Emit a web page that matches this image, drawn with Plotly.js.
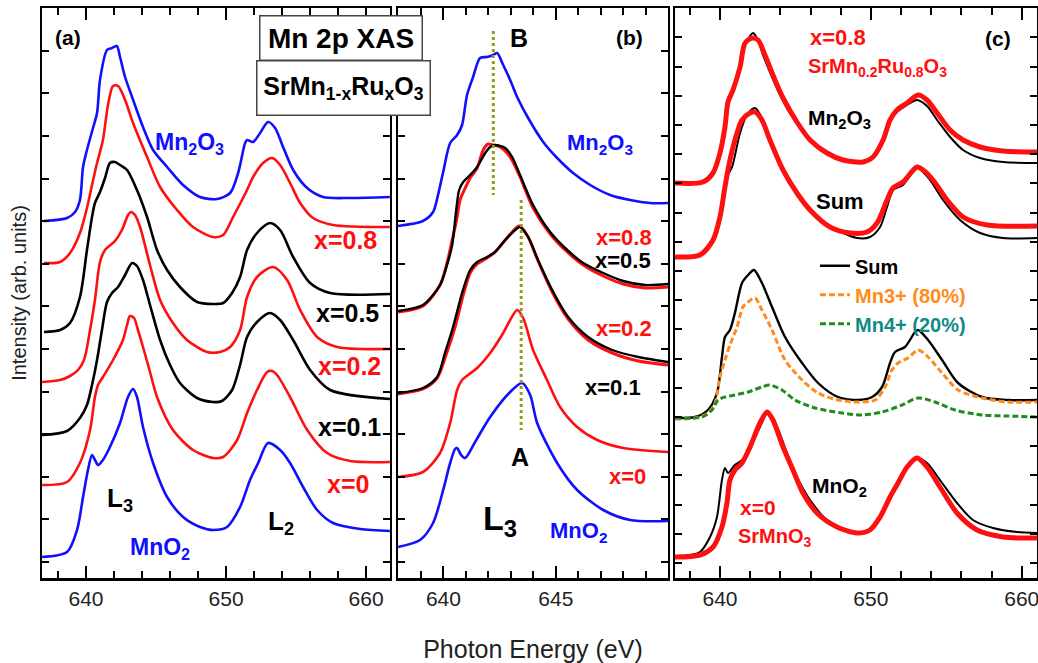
<!DOCTYPE html>
<html><head><meta charset="utf-8">
<script src="https://cdn.plot.ly/plotly-3.0.1.min.js"></script>
<style>html,body{margin:0;padding:0;background:#fff;}#chart{width:1038px;height:663px;}</style>
</head><body><div id="chart"></div>
<script>
// ---------- Panel (a) ----------
const aMn2O3E = [637.0,638.65,639.22,639.57,639.79,640.07,640.5,640.79,641.0,641.5,641.86,642.2,642.43,642.79,643.29,644.07,644.79,645.79,646.93,648.14,649.36,650.29,650.86,651.36,651.5,651.93,652.43,653.0,653.5,654.07,654.79,655.79,656.93,658.86,661.7];
const aMn2O3I = [35.7,36.0,36.6,37.8,41.1,42.8,45.0,46.5,49.8,52.8,53.0,53.2,52.1,50.1,48.1,45.1,42.8,41.1,39.3,38.1,37.9,38.5,40.5,43.5,43.8,43.6,44.5,45.6,45.0,43.1,40.8,39.0,38.1,38.0,38.1];
const aX08E = [637.0,638.15,638.86,639.57,640.07,640.43,640.79,641.21,641.57,641.93,642.29,642.79,643.36,644.36,645.29,646.5,647.64,649.07,649.79,650.5,651.5,651.93,652.64,653.29,653.86,654.57,655.29,656.21,657.64,661.7];
const aX08I = [31.5,31.6,32.5,34.5,37.0,39.3,41.5,43.8,47.3,49.2,49.2,47.8,45.5,42.1,39.1,36.8,35.1,34.1,34.3,36.1,38.8,40.1,41.5,42.0,41.3,39.5,37.5,36.0,35.3,35.1];
const aX05E = [637.0,638.15,638.86,639.57,640.07,640.43,640.64,641.0,641.36,641.71,642.07,642.43,642.93,643.64,644.36,645.07,645.79,646.71,647.93,649.07,649.79,650.43,651.0,651.5,652.21,653.14,653.86,654.79,656.0,657.43,661.7];
const aX05I = [24.6,24.8,25.5,28.1,32.8,36.1,37.5,38.6,40.0,41.5,41.6,41.3,40.8,38.8,36.1,32.8,30.8,29.1,27.6,27.4,27.5,28.5,30.1,32.8,34.5,35.5,34.8,32.1,29.5,28.5,28.4];
const aX02E = [636.86,638.15,638.86,639.43,639.86,640.29,640.64,641.0,641.36,642.07,642.57,643.0,643.21,643.5,643.86,644.57,645.29,646.21,647.21,648.64,649.57,650.29,651.0,651.5,652.21,653.36,654.36,655.29,656.5,657.93,661.7];
const aX02I = [19.6,19.8,20.2,20.8,21.8,24.8,27.8,31.6,32.8,33.7,34.8,36.3,36.6,36.3,35.1,31.3,27.8,25.5,23.8,22.6,22.6,23.1,24.8,28.1,30.1,31.1,29.8,26.8,24.1,23.1,22.9];
const aX01E = [636.86,638.65,639.57,640.07,640.43,640.79,641.14,641.5,641.86,642.29,642.79,643.29,643.64,644.07,644.57,645.29,646.0,646.71,647.93,649.07,649.71,650.43,651.0,651.5,652.21,653.14,653.86,654.79,656.0,657.43,661.7];
const aX01I = [14.3,14.7,16.0,17.3,19.3,21.8,24.8,27.6,28.5,29.1,30.3,31.5,31.2,29.8,27.3,23.8,21.3,19.5,18.0,17.6,17.7,18.8,21.3,24.1,25.6,26.5,25.8,23.8,20.8,18.8,17.9];
const aX0E = [636.86,638.65,639.57,640.29,640.64,640.86,641.21,641.93,642.64,642.93,643.14,643.43,643.71,644.07,644.57,645.07,646.21,647.64,649.07,649.79,650.79,651.5,652.21,652.93,653.29,653.64,654.57,655.79,657.21,658.86,661.7];
const aX0I = [9.3,9.6,11.5,14.8,18.1,19.3,20.1,21.8,23.8,25.3,26.2,26.0,24.8,23.1,20.6,18.1,14.8,12.8,12.0,12.1,13.8,16.5,18.8,20.6,20.7,20.3,18.1,14.8,12.5,11.7,11.6];
const aMnO2E = [636.86,638.65,639.36,639.79,640.14,640.43,640.64,640.86,641.21,641.71,642.43,643.0,643.36,643.64,644.07,644.79,645.79,646.93,648.14,649.07,650.07,651.0,651.71,652.29,653.0,653.86,654.57,655.5,656.5,657.64,659.57,661.7];
const aMnO2I = [2.1,2.6,4.8,8.1,10.8,12.3,11.8,11.3,11.8,13.1,15.5,18.1,18.9,18.1,15.1,11.5,8.1,6.1,5.1,4.8,5.1,7.1,9.8,11.5,13.5,12.8,11.5,9.1,6.8,5.5,4.9,4.7];

// ---------- Panel (b) ----------
const bMn2O3E = [637.98,639.09,639.54,639.76,639.99,640.3,640.61,640.83,641.05,641.32,641.63,641.94,642.21,642.39,642.66,642.97,643.28,643.77,644.44,645.06,645.77,646.53,647.42,648.3,649.19,650.0];
const bMn2O3I = [35.2,35.7,36.6,38.3,40.6,43.5,44.3,45.3,48.3,50.1,52.0,52.1,52.3,52.5,51.3,49.8,48.1,46.0,43.6,42.0,40.5,39.3,38.3,37.8,37.5,37.5];
const bX08E = [637.98,639.09,639.85,640.16,640.39,640.57,640.74,640.97,641.19,641.5,641.77,641.99,642.21,642.52,642.97,643.41,643.99,644.75,645.51,646.22,647.11,648.0,648.98,650.0];
const bX08I = [26.6,27.2,29.3,31.5,33.8,35.6,37.8,39.0,40.0,41.0,42.8,43.4,43.3,43.1,42.1,40.1,37.0,34.4,32.6,31.3,30.2,29.4,29.0,29.1];
const bX05E = [637.98,639.09,639.85,640.16,640.39,640.57,640.7,640.88,641.19,641.5,641.86,642.08,642.3,642.75,643.06,643.41,643.99,644.75,645.51,646.22,647.11,648.0,648.98,650.0];
const bX05I = [26.7,27.3,29.3,31.3,33.3,36.8,38.8,39.6,40.3,41.1,42.5,43.1,43.3,43.0,42.1,40.3,37.3,34.6,32.8,31.5,30.5,29.7,29.3,29.4];
const bX02E = [637.98,639.09,639.72,640.16,640.52,640.88,641.19,641.5,641.94,642.3,642.75,643.1,643.37,643.77,644.21,644.84,645.55,646.44,647.51,648.67,650.0];
const bX02I = [18.4,18.9,20.0,22.6,25.1,28.3,30.5,31.4,32.0,32.6,33.8,34.7,35.2,34.1,31.7,28.6,25.9,23.8,22.5,21.7,21.3];
const bX01E = [637.98,639.09,639.72,640.08,640.43,640.83,641.19,641.5,641.94,642.3,642.75,643.1,643.41,643.77,644.21,644.84,645.55,646.44,647.51,648.67,650.0];
const bX01I = [18.5,19.0,20.1,22.6,25.1,28.5,30.8,31.6,32.1,32.6,33.8,34.6,35.1,34.1,31.8,28.8,26.1,24.1,22.8,22.1,21.6];
const bX0E = [637.98,639.09,639.85,640.3,640.61,640.83,641.1,641.5,642.08,642.66,642.97,643.28,643.55,643.99,644.61,645.19,645.95,646.84,648.0,650.0];
const bX0I = [10.1,10.6,12.5,15.5,18.8,19.8,20.3,21.0,22.5,24.5,25.8,26.8,26.0,22.8,19.8,17.1,15.1,13.8,13.0,12.6];
const bMnO2E = [637.98,638.96,639.54,639.99,640.3,640.52,640.61,640.79,640.97,641.41,642.08,642.97,643.5,643.86,644.17,645.06,645.95,647.11,648.31,650.0];
const bMnO2I = [3.1,3.8,5.5,8.8,11.5,12.9,13.0,12.3,12.0,13.6,16.1,18.6,19.5,18.3,15.5,11.5,8.8,6.8,5.8,5.7];
const markBE = [642.22,642.22], markBI = [54.7,38.3];
const markAE = [643.46,643.46], markAI = [37.8,14.8];

// ---------- Panel (c) ----------
const cMn2O3E = [637.02,638.87,639.54,640.0,640.33,640.53,640.86,641.33,641.66,641.99,642.19,642.52,642.85,643.31,643.98,644.84,645.77,646.83,648.15,649.28,650.14,650.81,651.27,651.73,652.4,653.06,653.72,654.39,655.25,656.11,657.24,658.76,661.01];
const cMn2O3I = [39.5,39.6,40.6,42.6,44.8,47.4,48.5,51.0,53.3,54.2,54.5,53.8,52.3,50.6,48.3,46.0,44.1,42.6,41.8,41.5,42.0,43.8,45.8,46.6,47.3,47.8,47.2,45.8,44.1,42.8,42.0,41.6,41.5];
const cX08aE = [637.02,638.87,639.54,640.0,640.33,640.53,640.86,641.33,641.66,642.12,642.52,642.98,643.51,644.18,645.1,645.97,647.09,648.15,649.48,650.14,650.81,651.27,651.73,652.4,653.13,653.72,654.39,655.25,656.11,657.24,658.76,661.01];
const cX08aI = [39.5,39.6,40.5,42.5,45.1,47.6,48.8,51.1,53.5,54.0,53.8,52.3,50.3,48.0,45.6,43.8,42.5,41.8,41.6,42.1,43.8,45.8,46.8,47.5,48.3,47.8,46.5,44.8,43.8,43.1,42.7,42.6];
const cX08bE = [637.02,638.67,639.54,640.0,640.33,640.66,641.13,641.46,641.99,642.32,642.78,643.31,644.18,645.1,645.97,647.29,648.62,649.74,650.41,651.07,651.47,652.13,653.06,653.46,654.12,655.05,656.11,657.7,661.01];
const cX08bI = [32.1,32.3,33.8,36.1,39.1,41.8,44.5,45.8,46.5,46.6,45.8,43.8,40.8,38.5,36.8,35.1,34.5,34.6,35.5,37.8,39.0,39.6,41.1,40.8,39.8,37.8,36.1,35.3,35.2];
const cSumAE = [637.02,638.87,639.54,640.13,640.46,640.8,641.33,641.79,642.32,642.85,643.51,644.44,645.5,646.63,647.76,649.08,649.94,650.61,651.07,651.47,652.13,653.06,653.92,654.78,655.91,657.24,658.76,661.01];
const cSumAI = [32.1,32.5,33.8,37.1,40.1,41.1,44.5,46.3,47.0,45.8,43.1,40.1,37.5,35.8,34.8,34.0,34.1,35.1,37.1,38.8,39.3,41.0,39.8,37.8,35.8,34.5,34.0,34.0];
const cSumBE = [637.02,638.34,639.2,639.8,640.13,640.33,640.66,640.99,641.46,641.86,642.25,642.78,643.45,644.31,645.44,646.5,647.82,649.15,650.08,650.74,651.27,651.6,652.26,652.93,653.13,653.79,654.72,655.78,657.37,659.09,661.08];
const cSumBI = [16.0,16.1,16.8,18.5,22.1,24.1,24.8,26.5,29.5,30.3,30.8,29.5,27.1,24.1,21.5,19.5,18.1,17.8,18.1,19.1,21.5,22.6,23.1,24.6,24.8,23.8,21.8,19.5,18.1,17.8,17.8];
const cMn3E = [637.02,638.34,639.2,639.67,640.0,640.33,640.66,641.13,641.52,641.86,642.32,642.78,643.45,644.31,645.44,646.5,647.82,649.15,650.28,650.94,651.4,651.8,652.46,653.13,653.79,654.72,655.78,657.37,659.09,661.08];
const cMn3I = [15.9,16.0,16.5,17.5,20.1,21.8,23.3,25.1,27.1,27.6,28.0,26.8,24.8,21.8,19.8,18.5,17.8,17.6,17.8,19.1,20.8,21.5,22.0,22.8,22.1,20.5,18.8,18.0,17.6,17.6];
const cMn4E = [637.02,638.81,639.47,639.87,640.33,640.99,641.86,642.78,643.31,644.11,644.97,646.3,648.09,649.41,650.74,652.07,653.13,654.25,655.58,657.37,659.09,661.08];
const cMn4I = [16.0,16.1,16.8,17.8,18.1,18.3,18.6,19.1,19.3,18.8,17.8,17.0,16.5,16.3,16.6,17.3,18.0,17.6,16.8,16.3,16.2,16.1];
const cMnO2E = [637.02,638.67,639.34,639.8,640.13,640.33,640.53,640.99,641.46,641.99,642.65,643.18,643.78,644.44,645.1,645.97,647.09,648.42,649.48,650.14,650.81,651.4,651.8,652.4,653.06,653.72,654.58,655.71,656.77,658.1,659.69,661.01];
const cMnO2I = [2.1,2.6,4.1,6.1,9.8,11.0,10.5,11.3,11.8,13.1,15.1,16.6,15.1,12.5,10.1,7.8,5.8,4.8,4.6,5.1,6.8,8.5,9.5,11.1,12.0,11.5,9.8,7.5,5.8,5.0,4.6,4.5];
const cX0E = [637.02,638.67,639.54,640.13,640.46,640.66,640.99,641.46,641.99,642.65,643.12,643.51,644.18,644.84,645.5,646.43,647.76,649.08,649.94,650.61,651.27,651.8,652.4,653.06,653.72,654.58,655.71,657.04,658.76,661.01];
const cX0I = [2.1,2.3,3.1,5.1,7.5,9.8,10.8,11.5,13.1,15.5,16.6,15.8,13.1,10.8,8.5,6.5,5.1,4.5,4.8,6.1,8.1,9.5,11.1,12.0,11.1,9.1,6.5,4.8,4.1,4.0];

const RED = '#ff1010', BLUE = '#1010ff', BLK = '#000000', ORG = '#ff8c1a', GRN = '#1f8c1f', OLV = '#9a9a1a';
const FONT = 'Liberation Sans, Arial, sans-serif';

function tr(x, y, p, color, width, dash, name, legend) {
  const s = p === 1 ? '' : String(p);
  return {x: x, y: y, xaxis: 'x' + s, yaxis: 'y' + s, type: 'scatter', mode: 'lines',
    line: {color: color, width: width, dash: dash || 'solid', shape: 'spline', smoothing: 0.8},
    name: name || '', showlegend: !!legend, hoverinfo: 'skip'};
}
function vline(x, y, color) {
  return {x: x, y: y, xaxis: 'x2', yaxis: 'y2', type: 'scatter', mode: 'lines',
    line: {color: color, width: 3, dash: 'dot'}, showlegend: false, hoverinfo: 'skip'};
}

const data = [
  tr(aMn2O3E, aMn2O3I, 1, BLUE, 2.6),
  tr(aX08E, aX08I, 1, RED, 2.6),
  tr(aX05E, aX05I, 1, BLK, 2.6),
  tr(aX02E, aX02I, 1, RED, 2.6),
  tr(aX01E, aX01I, 1, BLK, 2.6),
  tr(aX0E, aX0I, 1, RED, 2.6),
  tr(aMnO2E, aMnO2I, 1, BLUE, 2.6),

  tr(bMn2O3E, bMn2O3I, 2, BLUE, 2.6),
  tr(bX08E, bX08I, 2, RED, 3),
  tr(bX05E, bX05I, 2, BLK, 2.4),
  tr(bX02E, bX02I, 2, RED, 3),
  tr(bX01E, bX01I, 2, BLK, 2.4),
  tr(bX0E, bX0I, 2, RED, 2.6),
  tr(bMnO2E, bMnO2I, 2, BLUE, 2.6),
  vline(markBE, markBI, OLV),
  vline(markAE, markAI, OLV),

  tr(cMn2O3E, cMn2O3I, 3, BLK, 2),
  tr(cX08aE, cX08aI, 3, RED, 5),
  tr(cSumAE, cSumAI, 3, BLK, 2),
  tr(cX08bE, cX08bI, 3, RED, 5),
  tr(cSumBE, cSumBI, 3, BLK, 2.4, 'solid', 'Sum', true),
  tr(cMn3E, cMn3I, 3, ORG, 3, '6px,3px', '<span style="color:#ff8c1a">Mn3+ (80%)</span>', true),
  tr(cMn4E, cMn4I, 3, GRN, 3, '6px,3px', '<span style="color:#138a8a">Mn4+ (20%)</span>', true),
  tr(cMnO2E, cMnO2I, 3, BLK, 2),
  tr(cX0E, cX0I, 3, RED, 5)
];

const axLine = {showline: true, linewidth: 2.5, linecolor: '#000', mirror: 'ticks', ticks: 'inside',
  tickwidth: 2, tickcolor: '#000', zeroline: false, showgrid: false};
const tickF = {family: FONT, size: 21, color: '#222'};
function xax(dom, rng, dt, mdt, anchor) {
  return Object.assign({}, axLine, {domain: dom, range: rng, dtick: dt, tick0: 640, ticklen: 12,
    tickfont: tickF, anchor: anchor, ticklabeloverflow: 'allow',
    minor: {dtick: mdt, ticklen: 7, ticks: 'inside', tickwidth: 2, tickcolor: '#000', showgrid: false}});
}
function yax(t0, dt, anchor) {
  return Object.assign({}, axLine, {domain: [0, 1], range: [0, 57], tick0: t0, dtick: dt, ticklen: 7,
    showticklabels: false, anchor: anchor});
}

// label list: [text, x, y, panel, color, size]
const labels = [
  ['(a)', 638.7, 54.1, 1, BLK, 21],
  ['Mn<sub>2</sub>O<sub>3</sub>', 647.4, 43.5, 1, BLUE, 23],
  ['x=0.8', 658.5, 33.8, 1, RED, 25],
  ['x=0.5', 658.7, 26.5, 1, BLK, 25],
  ['x=0.2', 658.8, 21.2, 1, RED, 25],
  ['x=0.1', 658.8, 15.1, 1, BLK, 25],
  ['x=0', 658.7, 9.4, 1, RED, 25],
  ['L<sub>3</sub>', 642.4, 7.9, 1, BLK, 26],
  ['L<sub>2</sub>', 653.9, 5.6, 1, BLK, 26],
  ['MnO<sub>2</sub>', 645.3, 3.0, 1, BLUE, 23],
  ['B', 643.37, 54.0, 2, BLK, 25],
  ['(b)', 648.3, 54.1, 2, BLK, 21],
  ['Mn<sub>2</sub>O<sub>3</sub>', 646.97, 43.4, 2, BLUE, 22],
  ['x=0.8', 648.04, 34.1, 2, RED, 22],
  ['x=0.5', 648.0, 31.8, 2, BLK, 22],
  ['x=0.2', 648.04, 25.0, 2, RED, 22],
  ['x=0.1', 647.55, 19.1, 2, BLK, 22],
  ['A', 643.41, 12.1, 2, BLK, 25],
  ['x=0', 648.18, 10.2, 2, RED, 22],
  ['L<sub>3</sub>', 642.5, 5.8, 2, BLK, 34],
  ['MnO<sub>2</sub>', 646.0, 4.6, 2, BLUE, 22],
  ['x=0.8', 647.82, 54.1, 3, RED, 22],
  ['SrMn<sub>0.2</sub>Ru<sub>0.8</sub>O<sub>3</sub>', 650.41, 51.1, 3, RED, 20],
  ['(c)', 658.43, 54.0, 3, BLK, 21],
  ['Mn<sub>2</sub>O<sub>3</sub>', 647.89, 45.9, 3, BLK, 21],
  ['Sum', 647.95, 37.7, 3, BLK, 22],
  ['MnO<sub>2</sub>', 647.95, 9.1, 3, BLK, 21],
  ['x=0', 642.52, 7.1, 3, RED, 21],
  ['SrMnO<sub>3</sub>', 643.65, 4.1, 3, RED, 20]
];
const annotations = labels.map(l => {
  const s = l[3] === 1 ? '' : String(l[3]);
  return {text: l[0], x: l[1], y: l[2], xref: 'x' + s, yref: 'y' + s, showarrow: false,
    font: {family: FONT, size: l[5], color: l[4], weight: 'bold'}, xanchor: 'center', yanchor: 'middle'};
});
annotations.push({text: 'Mn 2p XAS', x: 0.3, y: 0.9482, xref: 'paper', yref: 'paper', showarrow: false,
  xanchor: 'center', yanchor: 'middle',
  font: {family: FONT, size: 28, color: '#000', weight: 'bold'}, bgcolor: '#fff', bordercolor: '#444',
  borderwidth: 1.5, borderpad: 1, width: 159, height: 41});
annotations.push({text: 'SrMn<sub>1-x</sub>Ru<sub>x</sub>O<sub>3</sub>', x: 0.3035, y: 0.8605, xref: 'paper', yref: 'paper', showarrow: false,
  xanchor: 'center', yanchor: 'middle',
  font: {family: FONT, size: 25, color: '#000', weight: 'bold'}, bgcolor: '#fff', bordercolor: '#444',
  borderwidth: 1.5, borderpad: 1, width: 170, height: 51});

const layout = {
  width: 1038, height: 663,
  margin: {l: 42, r: 1, t: 8, b: 85},
  paper_bgcolor: '#fff', plot_bgcolor: '#fff',
  font: {family: FONT, color: '#000'},
  xaxis: xax([0, 0.3497], [636.86, 661.7], 10, 2, 'y'),
  xaxis2: Object.assign(xax([0.3578, 0.6291], [637.98, 649.99], 5, 1, 'y2'),
    {title: {text: 'Photon Energy (eV)', font: {family: FONT, size: 25, color: '#222'}, standoff: 34}}),
  xaxis3: xax([0.6362, 1], [637.02, 661.01], 10, 2, 'y3'),
  yaxis: Object.assign(yax(1.6, 4.26, 'x'),
    {title: {text: 'Intensity (arb. units)', font: {family: FONT, size: 20, color: '#222'}, standoff: 8}}),
  yaxis2: yax(1.6, 4.26, 'x2'),
  yaxis3: yax(1.5, 2.92, 'x3'),
  showlegend: true,
  legend: {x: 0.7769, y: 0.582, xanchor: 'left', yanchor: 'top', bgcolor: 'rgba(0,0,0,0)',
    font: {family: FONT, size: 20, color: '#000', weight: 'bold'}, tracegroupgap: 0},
  annotations: annotations
};

Plotly.newPlot('chart', data, layout, {displayModeBar: false, staticPlot: true});
</script></body></html>
